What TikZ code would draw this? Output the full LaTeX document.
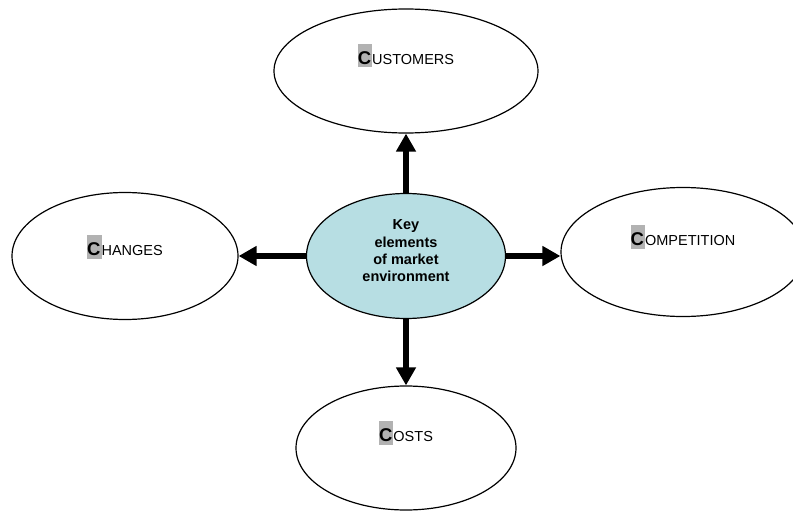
\documentclass[tikz,border=0pt]{standalone}
\usepackage{fontspec}
\setmainfont{Liberation Sans}
\usetikzlibrary{arrows.meta,shapes.geometric}

\definecolor{keyfill}{RGB}{183,222,227}
\definecolor{capgray}{RGB}{178,178,178}

% first letter big, bold and shaded, the rest in smaller capitals
\newcommand{\capword}[2]{%
	{\setlength{\fboxsep}{0pt}\colorbox{capgray}{\fontsize{18.5}{18}\selectfont\bfseries\rule[-3pt]{0pt}{24pt}#1\kern1pt}}%
	{\fontsize{14.5}{16}\selectfont #2}}

\begin{document}
\begin{tikzpicture}[x=1pt,y=-1pt]

% styles %{{{2

	\tikzset{
		outer/.style={ellipse, draw, line width=1.2pt, inner sep=0pt},
		caption/.style={yshift=15.5pt},
		link/.style={line width=5.5pt, -{Triangle[width=19pt,length=18pt]}},
	}

% frame %{{{2

	\clip (0,0) rectangle (793,511);

% centre %{{{2

	\node[outer, fill=keyfill, minimum width=199pt, minimum height=125pt,
	label={[yshift=5pt, align=center,
	font=\fontsize{14.5}{17.3}\selectfont\bfseries]center:Key\\elements\\of market\\environment}]
	(key) at (406,256) {};

% four Cs %{{{2

	\node[outer, minimum width=264pt, minimum height=124pt,
	label={[caption]center:\capword{C}{USTOMERS}}] (customers) at (406,71) {};

	\node[outer, minimum width=226pt, minimum height=127pt,
	label={[caption, yshift=-6pt]center:\capword{C}{HANGES}}] (changes) at (125,256) {};

	\node[outer, minimum width=244pt, minimum height=129pt,
	label={[caption]center:\capword{C}{OMPETITION}}] (competition) at (683,252) {};

	\node[outer, minimum width=220pt, minimum height=124pt,
	label={[caption]center:\capword{C}{OSTS}}] (costs) at (406,448) {};

% arrows %{{{2

	\draw[link] (key.north) -- (customers.south);
	\draw[link] (key.west) -- (changes.east);
	\draw[link] (key.east) -- (key.east -| competition.west);
	\draw[link] (key.south) -- (costs.north);

\end{tikzpicture}
\end{document}
